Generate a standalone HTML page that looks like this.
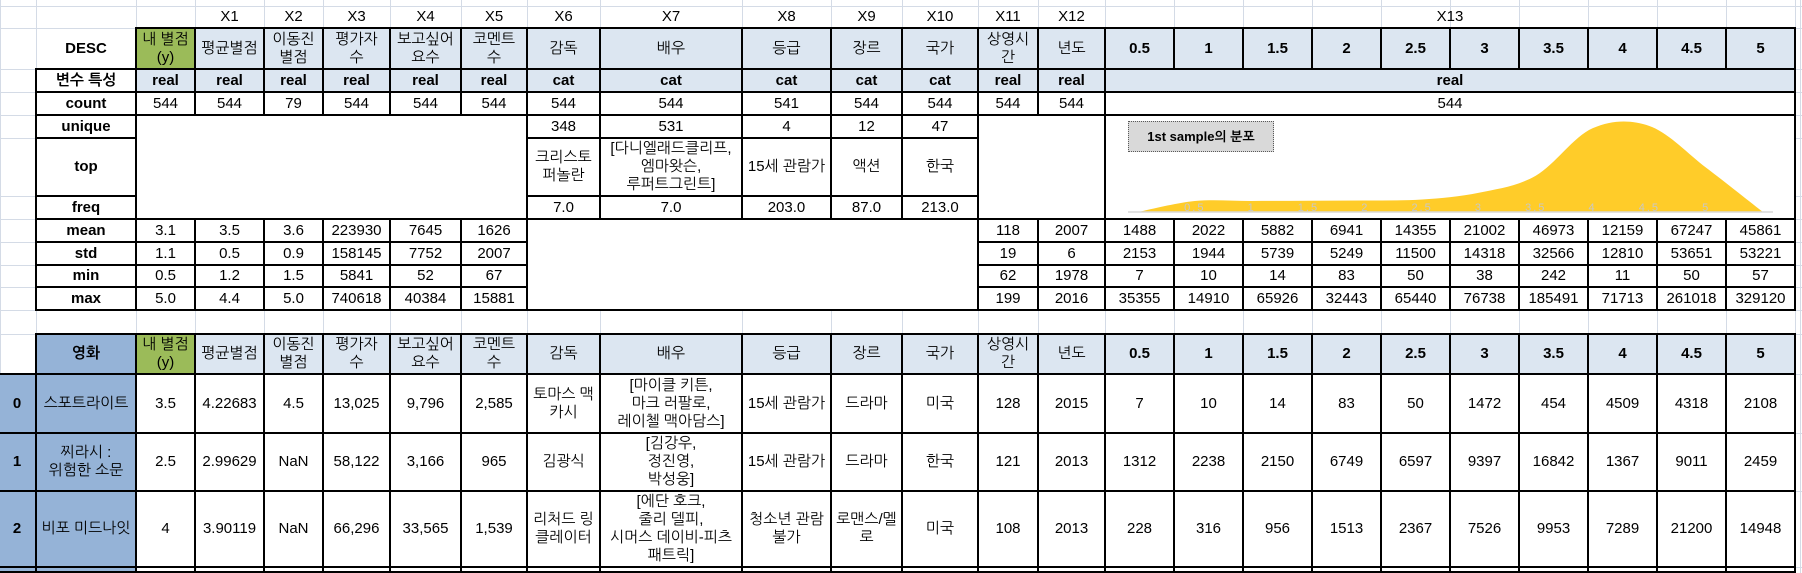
<!DOCTYPE html>
<html><head><meta charset="utf-8">
<style>
html,body{margin:0;padding:0;background:#fff;width:1802px;height:573px;overflow:hidden;position:relative;font-family:"Liberation Sans","NanumGothic","Noto Sans CJK KR",sans-serif;}
.g{position:absolute;background:#d4dbe6;}
.c{position:absolute;box-sizing:border-box;display:flex;align-items:center;justify-content:center;text-align:center;font-size:15px;line-height:18px;color:#000;overflow:hidden;white-space:nowrap;}
.b{border:2px solid #000;}
.w{background:#fff;}
.lb{background:#dce6f1;}
.gr{background:#9bbb59;}
.db{background:#95b3d7;}
.bd{font-weight:bold;}
</style></head><body>
<div id="grid"></div>
<div id="cells"></div>
<svg id="chart" width="1802" height="573" style="position:absolute;left:0;top:0;pointer-events:none"></svg>
<script>
const chartCategories=['','0.5','1','1.5','2','2.5','3','3.5','4','4.5','5',''];
const chartValues=[0,11,11,11.3,11.5,12.5,19.3,36.3,83.7,86,44.3,0];
const chartYMax=100;

const C=[0,36,136,195,264,323,390,461,527,600,742,831,902,978,1038,1105,1174,1243,1312,1381,1450,1519,1588,1657,1726,1795];
const grid=document.getElementById('grid');
const cells=document.getElementById('cells');
[6,28,69,92,115,138,196,219,242,265,287,310,334,374,433,491,567].forEach(function(y,i){
  const d=document.createElement('div');d.className='g';
  d.style.cssText='left:0;top:'+y+'px;width:1802px;height:1px';
  
  
  grid.appendChild(d);
});
C.concat([1800]).forEach(function(x){
  const d=document.createElement('div');d.className='g';
  d.style.cssText='left:'+x+'px;top:0;width:1px;height:573px';
  
  
  grid.appendChild(d);
});
function cell(x0,x1,y0,y1,html,cls,name){
  const d=document.createElement('div');
  d.className='c '+cls;
  const bord=cls.split(' ').indexOf('b')>=0;
  const e=bord?1:0;
  d.style.left=(x0-e)+'px';d.style.top=(y0-e)+'px';
  d.style.width=(x1-x0+2*e)+'px';d.style.height=(y1-y0+2*e)+'px';
  d.innerHTML=html;
  
  
  cells.appendChild(d);return d;
}
for(let k=3;k<=14;k++){cell(C[k],C[k+1],6,28,'X'+(k-2),'','x-label-'+(k-2));}
cell(C[15],C[25],6,28,'X13','','x-label-13');
cell(C[1],C[2],28,69,'DESC','bd','desc-label');
const hdr=['내 별점<br>(y)','평균별점','이동진<br>별점','평가자<br>수','보고싶어<br>요수','코멘트<br>수','감독','배우','등급','장르','국가','상영시<br>간','년도'];
const bins=['0.5','1','1.5','2','2.5','3','3.5','4','4.5','5'];
function header(y0,y1,pre){
  hdr.forEach(function(h,i){cell(C[i+2],C[i+3],y0,y1,h,'b '+(i===0?'gr':'lb'),pre+'-header-'+i);});
  bins.forEach(function(h,i){cell(C[i+15],C[i+16],y0,y1,h,'b lb bd',pre+'-bin-header-'+h);});
}
header(28,69,'desc');
cell(C[1],C[2],69,92,'변수 특성','b w bd','type-label');
const types=['real','real','real','real','real','real','cat','cat','cat','cat','cat','real','real'];
types.forEach(function(t,i){cell(C[i+2],C[i+3],69,92,t,'b lb bd','type-'+i);});
cell(C[15],C[25],69,92,'real','b lb bd','type-x13');
cell(C[1],C[2],92,115,'count','b w bd','count-label');
['544','544','79','544','544','544','544','544','541','544','544','544','544'].forEach(function(v,i){cell(C[i+2],C[i+3],92,115,v,'b w','count-'+i);});
cell(C[15],C[25],92,115,'544','b w','count-x13');
cell(C[1],C[2],115,138,'unique','b w bd','unique-label');
cell(C[1],C[2],138,196,'top','b w bd','top-label');
cell(C[1],C[2],196,219,'freq','b w bd','freq-label');
cell(C[2],C[8],115,219,'','b w','blank-block-1');
cell(C[13],C[15],115,219,'','b w','blank-block-2');
cell(C[15],C[25],115,219,'','b w','chart-cell');
['348','531','4','12','47'].forEach(function(v,i){cell(C[i+8],C[i+9],115,138,v,'b w','unique-'+i);});
['크리스토<br>퍼놀란','[다니엘래드클리프,<br>엠마왓슨,<br>루퍼트그린트]','15세 관람가','액션','한국'].forEach(function(v,i){cell(C[i+8],C[i+9],138,196,v,'b w','top-'+i);});
['7.0','7.0','203.0','87.0','213.0'].forEach(function(v,i){cell(C[i+8],C[i+9],196,219,v,'b w','freq-'+i);});
cell(C[8],C[13],219,310,'','b w','blank-block-3');
const stats=[
 ['mean',['3.1','3.5','3.6','223930','7645','1626'],['118','2007'],['1488','2022','5882','6941','14355','21002','46973','12159','67247','45861']],
 ['std',['1.1','0.5','0.9','158145','7752','2007'],['19','6'],['2153','1944','5739','5249','11500','14318','32566','12810','53651','53221']],
 ['min',['0.5','1.2','1.5','5841','52','67'],['62','1978'],['7','10','14','83','50','38','242','11','50','57']],
 ['max',['5.0','4.4','5.0','740618','40384','15881'],['199','2016'],['35355','14910','65926','32443','65440','76738','185491','71713','261018','329120']]
];
const sy=[219,242,265,287,310];
stats.forEach(function(s,r){
  const y0=sy[r],y1=sy[r+1];
  cell(C[1],C[2],y0,y1,s[0],'b w bd',s[0]+'-label');
  s[1].forEach(function(v,i){cell(C[i+2],C[i+3],y0,y1,v,'b w',s[0]+'-'+i);});
  s[2].forEach(function(v,i){cell(C[i+13],C[i+14],y0,y1,v,'b w',s[0]+'-x1'+(i+1));});
  s[3].forEach(function(v,i){cell(C[i+15],C[i+16],y0,y1,v,'b w',s[0]+'-bin-'+i);});
});
cell(C[1],C[2],334,374,'영화','b db bd','movie-header');
header(334,374,'movie');
const movies=[
 ['0','스포트라이트','3.5','4.22683','4.5','13,025','9,796','2,585','토마스 맥<br>카시','[마이클 키튼,<br>마크 러팔로,<br>레이첼 맥아담스]','15세 관람가','드라마','미국','128','2015','7','10','14','83','50','1472','454','4509','4318','2108'],
 ['1','찌라시 :<br>위험한 소문','2.5','2.99629','NaN','58,122','3,166','965','김광식','[김강우,<br>정진영,<br>박성웅]','15세 관람가','드라마','한국','121','2013','1312','2238','2150','6749','6597','9397','16842','1367','9011','2459'],
 ['2','비포 미드나잇','4','3.90119','NaN','66,296','33,565','1,539','리처드 링<br>클레이터','[에단 호크,<br>줄리 델피,<br>시머스 데이비-피츠<br>패트릭]','청소년 관람<br>불가','로맨스/멜<br>로','미국','108','2013','228','316','956','1513','2367','7526','9953','7289','21200','14948'],
 ['','','','','','','','','','','','','','','','','','','','','','','','','']
];
const my=[374,433,491,567,572];
movies.forEach(function(m,r){
  const y0=my[r],y1=my[r+1];
  m.forEach(function(v,i){
    const x0=i===0?-2:C[i],x1=C[i+1];
    const cls=i<=1?'b db'+(i===0?' bd':''):'b w';
    cell(x0,x1,y0,y1,v,cls,'movie-'+r+'-col-'+i);
  });
});
const svg=document.getElementById('chart');
const NS='http://www.w3.org/2000/svg';
const px0=1138,px1=1763,base=212,ph=100;
function xs(i){return px0+i*(px1-px0)/(chartCategories.length-1);}
function ys(v){return base-v/chartYMax*ph;}
const legend=document.createElement('div');
legend.className='c bd';
legend.style.cssText='left:1128px;top:121px;width:146px;height:31px;background:#d9d9d9;border:1.5px dotted #595959;font-size:13px;';
legend.textContent='1st sample의 분포';


cells.appendChild(legend);
const pts=chartValues.map(function(v,i){return [xs(i),ys(v)];});
let d='M'+pts[0][0]+','+base+' L'+pts[0][0]+','+pts[0][1];
for(let i=0;i<pts.length-1;i++){
  const p0=pts[Math.max(0,i-1)],p1=pts[i],p2=pts[i+1],p3=pts[Math.min(pts.length-1,i+2)];
  const t=6;
  const c1=[p1[0]+(p2[0]-p0[0])/t,p1[1]+(p2[1]-p0[1])/t];
  const c2=[p2[0]-(p3[0]-p1[0])/t,p2[1]-(p3[1]-p1[1])/t];
  d+=' C'+c1[0]+','+Math.min(base,c1[1])+' '+c2[0]+','+Math.min(base,c2[1])+' '+p2[0]+','+p2[1];
}
d+=' L'+pts[pts.length-1][0]+','+base+' Z';
const area=document.createElementNS(NS,'path');
area.setAttribute('d',d);area.setAttribute('fill','#ffcc29');


svg.appendChild(area);
const axis=document.createElementNS(NS,'line');
axis.setAttribute('x1',1128);axis.setAttribute('x2',1773);axis.setAttribute('y1',base);axis.setAttribute('y2',base);
axis.setAttribute('stroke','#d9d9d9');axis.setAttribute('stroke-width','1.5');


svg.appendChild(axis);
chartCategories.forEach(function(c,i){
  if(!c)return;
  const t=document.createElementNS(NS,'text');
  t.setAttribute('x',xs(i));t.setAttribute('y',base-1);
  t.setAttribute('text-anchor','middle');t.setAttribute('font-size','11');
  t.setAttribute('letter-spacing','2');t.setAttribute('fill','#c8c8c8');
  t.setAttribute('font-family','Liberation Sans, sans-serif');
  t.textContent=c;
  
  
  svg.appendChild(t);
});
</script>
</body></html>
